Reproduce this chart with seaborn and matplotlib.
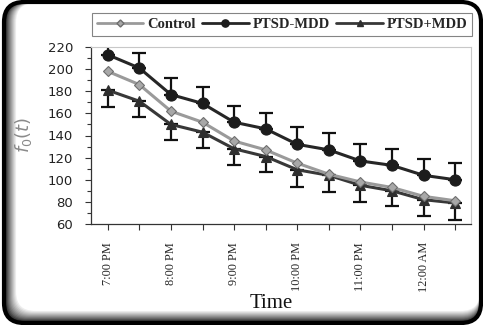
import matplotlib
matplotlib.use("Agg")
import matplotlib.pyplot as plt
import seaborn as sns
import numpy as np
import pandas as pd
from matplotlib.patches import FancyBboxPatch
from matplotlib.lines import Line2D
from matplotlib.ticker import MultipleLocator

times = ["7:00 PM", "7:30 PM", "8:00 PM", "8:30 PM", "9:00 PM", "9:30 PM",
         "10:00 PM", "10:30 PM", "11:00 PM", "11:30 PM", "12:00 AM", "12:30 AM"]
control = [198, 186, 162, 152, 135, 127, 115, 105, 98, 93, 85, 81]
ptsd_minus = [213, 201, 177, 169, 152, 146, 132, 127, 117, 113, 104, 100]
ptsd_plus = [181, 171, 150, 143, 128, 121, 109, 104, 95, 90, 82, 79]
err_minus_up = [15, 14, 15, 15, 15, 14, 16, 15, 15, 15, 15, 15]
err_plus_down = [15, 14, 14, 14, 15, 14, 16, 15, 15, 14, 15, 15]

sns.set_theme(style="white")

W, H = 483, 325
fig = plt.figure(figsize=(W/100, H/100), dpi=100)
ax = fig.add_axes([91/W, 1-224/H, (471-91)/W, (224-47)/H])
ax.set_zorder(2)

idx = np.arange(len(times))
df = pd.DataFrame({"idx": idx, "Control": control, "PTSD-MDD": ptsd_minus, "PTSD+MDD": ptsd_plus})

styles = {
    "Control": dict(color="#9a9a9a", marker="D", ms=5.5, mfc="#a8a8a8", mec="#6e6e6e", lw=2.2),
    "PTSD-MDD": dict(color="#262626", marker="o", ms=8, mfc="#1c1c1c", mec="#1c1c1c", lw=2.2),
    "PTSD+MDD": dict(color="#383838", marker="^", ms=7.5, mfc="#2e2e2e", mec="#2e2e2e", lw=2.2),
}

# error bars
for vals, yerr in [(ptsd_minus, [np.zeros(len(idx)), err_minus_up]),
                   (ptsd_plus, [err_plus_down, np.zeros(len(idx))])]:
    eb = ax.errorbar(idx, vals, yerr=yerr, fmt="none", ecolor="#111111", elinewidth=1.6,
                     capsize=5, capthick=1.6, zorder=1)
    for art in eb.lines[1] + eb.lines[2]:
        art.set_clip_on(True)

for name in ["PTSD+MDD", "Control", "PTSD-MDD"]:
    s = styles[name]
    sns.lineplot(data=df, x="idx", y=name, ax=ax, color=s["color"], lw=s["lw"],
                 marker=s["marker"], markersize=s["ms"], markerfacecolor=s["mfc"],
                 markeredgecolor=s["mec"], markeredgewidth=0.8, zorder=3)

ax.set_xlim(-0.53, 11.5)
ax.set_ylim(60, 220)
ax.yaxis.set_major_locator(MultipleLocator(20))
ax.yaxis.set_minor_locator(MultipleLocator(10))
ax.set_xticks(idx)
ax.set_xticklabels([t if i % 2 == 0 else "" for i, t in enumerate(times)],
                   rotation=90, family="Liberation Serif", fontsize=8.8)
for lab in ax.get_yticklabels():
    lab.set_family("DejaVu Sans")
    lab.set_fontsize(9.5)
    lab.set_color("#222222")
ax.tick_params(axis="both", which="both", direction="out", left=True, bottom=True,
               color="#333333", width=0.8)
ax.tick_params(axis="y", which="major", length=4, pad=9)
ax.tick_params(axis="y", which="minor", length=3)
ax.tick_params(axis="x", which="major", length=4, pad=9)
for sp in ["left", "bottom"]:
    ax.spines[sp].set_color("#333333")
    ax.spines[sp].set_linewidth(0.9)
for sp in ["top", "right"]:
    ax.spines[sp].set_color("#c8c8c8")
    ax.spines[sp].set_linewidth(0.8)

ax.set_xlabel("Time", family="Liberation Serif", fontsize=15, color="#111111", va="center")
ax.xaxis.set_label_coords((271-91)/380, -(303-224)/177)
ax.set_ylabel("$f_0(t)$", fontsize=13, color="#8a8a8a", va="center")
ax.yaxis.set_label_coords((23-91)/380, (224-135)/177)

handles = []
for name in ["Control", "PTSD-MDD", "PTSD+MDD"]:
    s = styles[name]
    ms = s["ms"] * 0.65
    handles.append(Line2D([], [], color=s["color"], lw=2, marker=s["marker"], markersize=ms,
                          markerfacecolor=s["mfc"], markeredgecolor=s["mec"]))
leg = fig.legend(handles, ["Control", "PTSD-MDD", "PTSD+MDD"], loc="center",
                 bbox_to_anchor=((91+473)/2/W, 1-24.5/H), ncol=3, frameon=True,
                 fancybox=False, edgecolor="#666666", handlelength=3.2, handletextpad=0.25,
                 columnspacing=0.45, borderpad=0.35,
                 prop=dict(family="Liberation Serif", weight="bold", size=10.5))
leg.get_frame().set_linewidth(0.8)
leg.set_zorder(3)

# outer rounded frame with left/bottom shadow (pixel-based via inches)
x0, y0, x1, y1 = 4/100, 2/100, 481/100, 323/100
n = 11
for k in range(n, 0, -1):
    g = 0.93 * (k / n) ** 0.8
    off = k * 1.0 / 100
    p = FancyBboxPatch((x0 + off, y0 + off), (x1 - x0) - off, (y1 - y0) - off,
                       boxstyle="round,pad=0,rounding_size=0.2",
                       transform=fig.dpi_scale_trans, fill=False,
                       edgecolor=(g, g, g), lw=1.6, zorder=-2)
    fig.patches.append(p)
frame = FancyBboxPatch((x0, y0), x1 - x0, y1 - y0, boxstyle="round,pad=0,rounding_size=0.2",
                       transform=fig.dpi_scale_trans, fill=False, edgecolor="#000000", lw=3,
                       zorder=-1)
fig.patches.append(frame)

fig.savefig("out.png", dpi=100)
